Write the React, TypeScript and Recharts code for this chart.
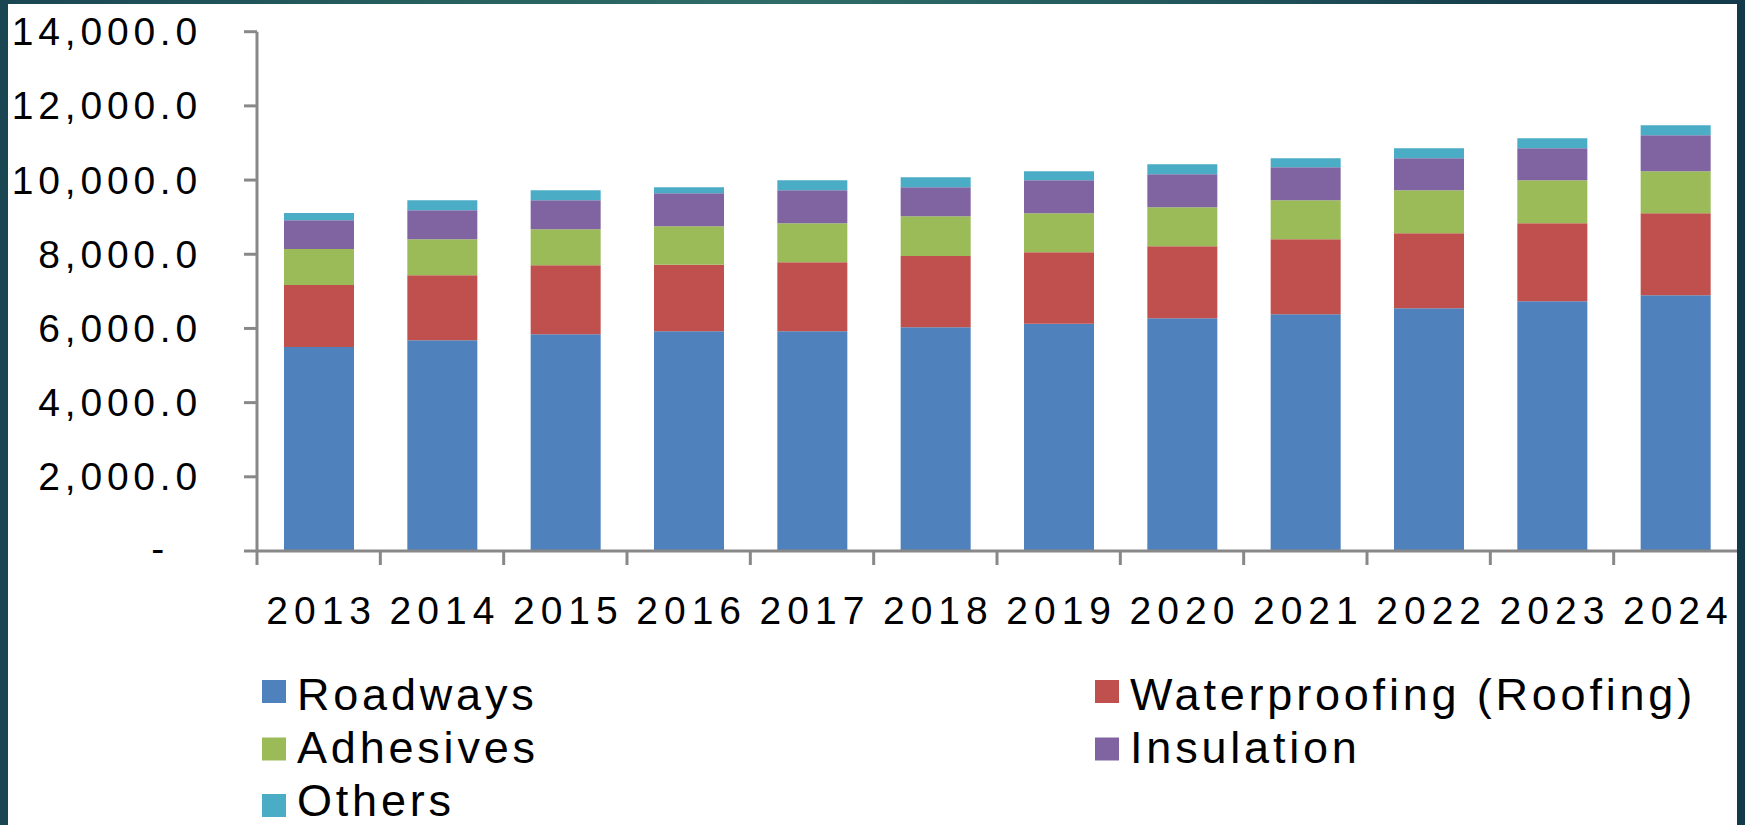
import React from 'react';
import { BarChart, Bar, XAxis, YAxis, Legend } from 'recharts';

const years = ['2013', '2014', '2015', '2016', '2017', '2018', '2019', '2020', '2021', '2022', '2023', '2024'];
const roadways = [5500, 5685, 5845, 5925, 5925, 6035, 6125, 6275, 6385, 6545, 6735, 6895];
const waterproofing = [1670, 1750, 1860, 1790, 1860, 1920, 1930, 1940, 2020, 2020, 2100, 2210];
const adhesives = [970, 970, 970, 1040, 1050, 1070, 1050, 1050, 1050, 1160, 1160, 1130];
const insulation = [780, 780, 780, 890, 890, 780, 890, 890, 890, 860, 860, 970];
const others = [190, 270, 270, 160, 270, 270, 240, 270, 240, 270, 270, 270];
const yTicks = [0, 2000, 4000, 6000, 8000, 10000, 12000, 14000];

const seriesKeys = ['roadways', 'waterproofing', 'adhesives', 'insulation', 'others'];
const seriesNames = ['Roadways', 'Waterproofing (Roofing)', 'Adhesives', 'Insulation', 'Others'];
const seriesColors = ['#4F81BD', '#C0504D', '#9BBB59', '#8064A2', '#4BACC6'];
const seriesValues = [roadways, waterproofing, adhesives, insulation, others];

const data = years.map((year, i) => {
  const row: Record<string, any> = { year };
  seriesKeys.forEach((k, s) => {
    row[k] = seriesValues[s][i];
  });
  return row;
});

const W = 1745;
const H = 825;
const PLOT_LEFT = 257;
const PLOT_RIGHT_MARGIN = 8;
const PLOT_TOP = 31.7;
const PLOT_BOTTOM = 551;
const BAND = (W - PLOT_LEFT - PLOT_RIGHT_MARGIN) / years.length;
const FONT = '"Liberation Sans", Arial, sans-serif';
const AXIS_GRAY = '#888888';

const fmt = (v: number) =>
  v.toLocaleString('en-US', { minimumFractionDigits: 1, maximumFractionDigits: 1 });

const YTick = (props: any) => {
  const { y, payload } = props;
  const v = payload.value as number;
  if (v === 0) {
    return (
      <text x={151.3} y={y + 10.5} fontFamily={FONT} fontSize={39} fill="#000" textAnchor="start">
        -
      </text>
    );
  }
  return (
    <text
      x={202}
      y={y + 13.5}
      fontFamily={FONT}
      fontSize={39}
      fill="#000"
      textAnchor="end"
      style={{ letterSpacing: '4.8px' }}
    >
      {fmt(v)}
    </text>
  );
};

const XTick = (props: any) => {
  const { x, payload } = props;
  const bx = x - BAND / 2;
  return (
    <g>
      <line x1={bx} x2={bx} y1={PLOT_BOTTOM} y2={PLOT_BOTTOM + 14} stroke={AXIS_GRAY} strokeWidth={3} />
      <text
        x={x + 3}
        y={624}
        fontFamily={FONT}
        fontSize={39}
        fill="#000"
        textAnchor="middle"
        style={{ letterSpacing: '6px' }}
      >
        {payload.value}
      </text>
    </g>
  );
};

const LEG_TOP = 660;
const legendCols = [262, 1095];
const legendSquareTops = [680, 737.5, 794];
const legendBaselines = [709.5, 763, 815.5];
const renderLegend = () => (
  <svg width={W} height={H - LEG_TOP} style={{ display: 'block' }}>
    {seriesNames.map((name, i) => {
      const col = i % 2;
      const row = Math.floor(i / 2);
      const sx = legendCols[col];
      const sy = legendSquareTops[row] - LEG_TOP;
      const ty = legendBaselines[row] - LEG_TOP;
      return (
        <g key={name}>
          <rect x={sx} y={sy} width={24} height={23} fill={seriesColors[i]} />
          <text
            x={sx + 35}
            y={ty}
            fontFamily={FONT}
            fontSize={45}
            fill="#000"
            style={{ letterSpacing: '3.8px' }}
          >
            {name}
          </text>
        </g>
      );
    })}
  </svg>
);

export default function App() {
  return (
    <div
      style={{
        position: 'absolute',
        left: 0,
        top: 0,
        width: W,
        height: H,
        overflow: 'hidden',
        background:
          'linear-gradient(90deg, #1a4654 0%, #27605f 25%, #2f6c68 45%, #245a5e 65%, #173f4e 85%, #123a4a 100%)',
      }}
    >
      <div
        style={{
          position: 'absolute',
          left: 8,
          top: 4,
          width: W - 16,
          height: H - 4,
          background: '#ffffff',
        }}
      />
      <div style={{ position: 'absolute', left: 0, top: 0 }}>
        <BarChart
          width={W}
          height={H}
          data={data}
          margin={{ top: PLOT_TOP, right: PLOT_RIGHT_MARGIN, bottom: 0, left: 0 }}
          barSize={70}
        >
          <XAxis
            dataKey="year"
            height={H - PLOT_BOTTOM}
            axisLine={{ stroke: AXIS_GRAY, strokeWidth: 3 }}
            tickLine={false}
            tick={<XTick />}
            interval={0}
          />
          <YAxis
            width={PLOT_LEFT}
            domain={[0, 14000]}
            ticks={yTicks}
            interval={0}
            axisLine={{ stroke: AXIS_GRAY, strokeWidth: 3 }}
            tickLine={{ stroke: AXIS_GRAY, strokeWidth: 3 }}
            tickSize={13}
            tick={<YTick />}
          />
          <Legend
            layout="horizontal"
            verticalAlign="middle"
            align="center"
            wrapperStyle={{ top: LEG_TOP, left: 0, width: W, height: H - LEG_TOP }}
            content={renderLegend}
          />
          {seriesKeys.map((k, i) => (
            <Bar
              key={k}
              dataKey={k}
              name={seriesNames[i]}
              stackId="a"
              fill={seriesColors[i]}
              isAnimationActive={false}
            />
          ))}
        </BarChart>
      </div>
    </div>
  );
}
